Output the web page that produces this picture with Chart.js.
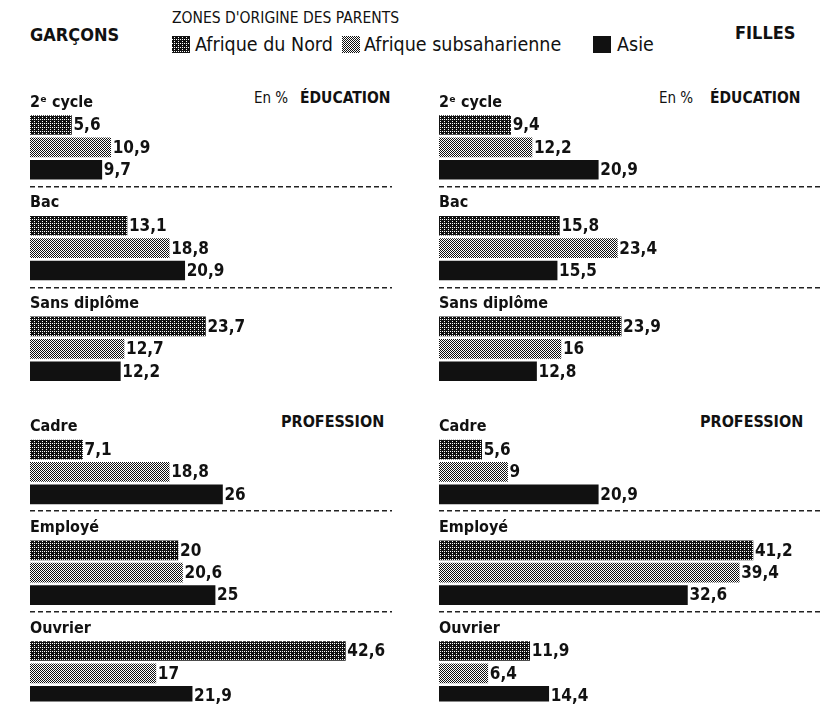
<!DOCTYPE html>
<html>
<head>
<meta charset="utf-8">
<script src="https://cdn.jsdelivr.net/npm/chart.js@4.4.1/dist/chart.umd.min.js"></script>
<style>
body{margin:0;background:#fff;width:833px;height:711px;overflow:hidden;position:relative;
  font-family:'DejaVu Sans Condensed',sans-serif;color:#111}
.t{position:absolute;white-space:nowrap;line-height:1}
.sw{position:absolute;width:18px;height:17px}
.chart{position:absolute;top:0}
</style>
</head>
<body>
<div class="t" style="left:30px;top:26px;font-size:18px;font-weight:bold">GARÇONS</div>
<div class="t" style="left:172px;top:11px;font-size:15.5px">ZONES D'ORIGINE DES PARENTS</div>
<div id="legend"></div>
<div class="t" style="left:735px;top:24px;font-size:18px;font-weight:bold">FILLES</div>

<div class="t" style="left:254px;top:91px;font-size:15px">En %</div>
<div class="t" style="left:300px;top:91px;font-size:15.5px;font-weight:bold">ÉDUCATION</div>
<div class="t" style="left:659px;top:91px;font-size:15px">En %</div>
<div class="t" style="left:710px;top:91px;font-size:15.5px;font-weight:bold">ÉDUCATION</div>
<div class="t" style="left:281px;top:414px;font-size:16px;font-weight:bold">PROFESSION</div>
<div class="t" style="left:700px;top:414px;font-size:16px;font-weight:bold">PROFESSION</div>

<canvas id="chartG" class="chart" style="left:0" width="400" height="711"></canvas>
<canvas id="chartF" class="chart" style="left:410px" width="423" height="711"></canvas>

<script>
'use strict';

var categories = ['2ᵉ cycle', 'Bac', 'Sans diplôme', 'Cadre', 'Employé', 'Ouvrier'];
var series = ['Afrique du Nord', 'Afrique subsaharienne', 'Asie'];

// garçons
var garconsNord = [5.6, 13.1, 23.7, 7.1, 20, 42.6];
var garconsSub = [10.9, 18.8, 12.7, 18.8, 20.6, 17];
var garconsAsie = [9.7, 20.9, 12.2, 26, 25, 21.9];

// filles
var fillesNord = [9.4, 15.8, 23.9, 5.6, 41.2, 11.9];
var fillesSub = [12.2, 23.4, 16, 9, 39.4, 6.4];
var fillesAsie = [20.9, 15.5, 12.8, 20.9, 32.6, 14.4];

// rows on the y axis: label row, then 3 bars, gap between groups
var labelRows = [0, 9, 18, 29, 38, 47];
var nbRows = 54;
var sepRows = [8, 17, 37, 46];

var fontFam = "'DejaVu Sans Condensed', sans-serif";

function buildRows(values, shift) {
  var arr = new Array(nbRows).fill(null);
  labelRows.forEach(function (r, i) { arr[r + shift] = values[i]; });
  return arr;
}
var rowLabels = new Array(nbRows).fill('');
labelRows.forEach(function (r, i) { rowLabels[r] = categories[i]; });

// grisé tramé
var bayer = [0, 8, 2, 10, 12, 4, 14, 6, 3, 11, 1, 9, 15, 7, 13, 5];
function makeTile(density) {
  var c = document.createElement('canvas');
  c.width = 4; c.height = 4;
  var g = c.getContext('2d');
  g.fillStyle = '#fff';
  g.fillRect(0, 0, 4, 4);
  g.fillStyle = '#111';
  for (var i = 0; i < 16; i++) {
    if (bayer[i] / 16 < density) g.fillRect(i % 4, Math.floor(i / 4), 1, 1);
  }
  return c;
}
var tileNord = makeTile(0.78);
var tileSub = makeTile(0.5);
var pctx = document.createElement('canvas').getContext('2d');
var patNord = pctx.createPattern(tileNord, 'repeat');
var patSub = pctx.createPattern(tileSub, 'repeat');

// légende
var legendPos = [[172, 195], [342, 364], [593, 617]];
var legendHtml = '';
[tileNord, tileSub, null].forEach(function (tile, i) {
  var bg = tile ? 'background-image:url(' + tile.toDataURL() + ')' : 'background:#111';
  legendHtml += '<span class="sw" style="left:' + legendPos[i][0] + 'px;top:36px;' + bg + '"></span>';
  legendHtml += '<span class="t" style="left:' + legendPos[i][1] + 'px;top:35px;font-size:19.5px">' + series[i] + '</span>';
});
document.getElementById('legend').innerHTML = legendHtml;

var valueLabels = {
  afterDatasetsDraw: function (chart) {
    var ctx = chart.ctx;
    ctx.save();
    ctx.font = 'bold 17px ' + fontFam;
    ctx.fillStyle = '#111';
    ctx.textAlign = 'left';
    ctx.textBaseline = 'middle';
    chart.data.datasets.forEach(function (dataset, i) {
      chart.getDatasetMeta(i).data.forEach(function (bar, j) {
        var v = dataset.data[j];
        if (v === null) return;
        ctx.fillText(String(v).replace('.', ','), bar.x + 2, bar.y + 1);
      });
    });
    ctx.restore();
  }
};

function makeChart(id, nord, sub, asie, maxX, padL, padR) {
  return new Chart(document.getElementById(id), {
    type: 'bar',
    data: {
      labels: rowLabels,
      datasets: [
        { label: series[0], data: buildRows(nord, 2), backgroundColor: patNord },
        { label: series[1], data: buildRows(sub, 4), backgroundColor: patSub },
        { label: series[2], data: buildRows(asie, 6), backgroundColor: '#111' }
      ]
    },
    plugins: [valueLabels],
    options: {
      indexAxis: 'y',
      responsive: false,
      animation: false,
      datasets: { bar: { grouped: false, barThickness: 19, borderWidth: 0 } },
      layout: { padding: { left: padL, right: padR, top: 97, bottom: 5 } },
      plugins: { legend: { display: false }, tooltip: { enabled: false } },
      scales: {
        x: { display: false, min: 0, max: maxX },
        y: {
          grid: {
            offset: true,
            drawTicks: false,
            lineWidth: 1.5,
            color: function (c) { return sepRows.indexOf(c.index) >= 0 ? '#222' : 'rgba(0,0,0,0)'; }
          },
          border: { display: false, dash: [5, 3] },
          ticks: {
            mirror: true,
            padding: 0,
            autoSkip: false,
            color: '#111',
            font: { family: fontFam, size: 16, weight: 'bold' }
          }
        }
      }
    }
  });
}

makeChart('chartG', garconsNord, garconsSub, garconsAsie, 48.9, 30, 8);
makeChart('chartF', fillesNord, fillesSub, fillesAsie, 50, 29, 13);
</script>
</body>
</html>
